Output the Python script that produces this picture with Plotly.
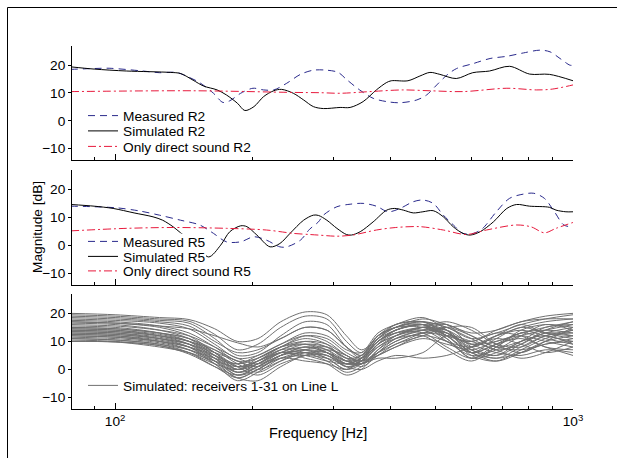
import math
import plotly.graph_objects as go

# ---------------- data ----------------
# Panel 1: receiver R2
freq_meas_r2 = [80, 90, 97, 115, 125, 136, 143, 153, 164, 172, 178, 188, 200, 211, 222, 237, 254, 271, 290, 307,
                320, 342, 366, 392, 419, 456, 479, 504, 530, 557, 606, 659, 717, 779, 847, 891, 937, 985, 1000]
meas_r2 = [18.5, 18.8, 18.9, 17.9, 17.3, 17.4, 16.1, 13.7, 9.9, 6.6, 7.2, 9.9, 11.7, 11.1, 11.1, 13.5, 16.7, 18.2, 18.2, 17.4,
           14.9, 11.1, 8.1, 6.9, 6.5, 7.5, 9.3, 12.9, 16.4, 18.8, 20.6, 22.4, 23.2, 24.4, 25.4, 24.8, 22.4, 20.0, 20.0]

freq_sim_r2 = [80, 90, 106, 132, 139, 148, 156, 167, 175, 185, 192, 201, 211, 222, 231, 245, 258, 271, 285, 310,
               326, 348, 372, 391, 401, 436, 463, 487, 512, 556, 604, 657, 727, 804, 888, 1000]
sim_r2 = [19.4, 18.6, 17.9, 17.4, 17.0, 14.6, 12.5, 11.1, 9.3, 6.3, 3.7, 5.1, 8.7, 10.8, 11.3, 9.9, 7.5, 5.1, 4.4, 4.8,
          4.8, 6.9, 11.1, 13.7, 14.4, 14.4, 16.1, 17.4, 16.7, 15.2, 17.3, 17.9, 19.6, 16.8, 16.7, 14.4]

freq_dir_r2 = [80, 148, 245, 281, 310, 360, 425, 487, 575, 717, 833, 901, 1000]
dir_r2 = [10.5, 10.8, 10.2, 10.1, 9.9, 10.5, 11.1, 10.8, 10.5, 11.7, 11.1, 11.4, 12.9]

# Panel 2: receiver R5
freq_meas_r5 = [80, 90, 101, 113, 125, 139, 153, 164, 175, 188, 201, 214, 229, 237, 254, 266, 278, 285, 305, 326,
                348, 372, 395, 419, 448, 470, 495, 521, 548, 575, 606, 635, 680, 727, 779, 821, 866, 911, 955, 1000]
meas_r5 = [14.0, 13.8, 13.4, 12.3, 10.8, 9.0, 7.3, 4.3, 1.3, 1.3, 3.1, 1.9, -0.5, -0.5, 1.9, 5.8, 8.4, 10.8, 13.8, 14.7,
           15.0, 14.0, 12.0, 13.2, 15.6, 16.2, 15.0, 10.8, 7.3, 4.3, 4.3, 6.1, 12.0, 16.8, 18.3, 18.6, 16.8, 12.0, 7.3, 6.6]

freq_sim_r5 = [80, 90, 99, 110, 121, 127, 134, 139, 150, 160, 170, 178, 188, 194, 204, 218, 229, 241, 258, 271,
               278, 290, 305, 320, 328, 343, 366, 392, 408, 426, 448, 470, 495, 521, 548, 575, 596, 627, 670, 717,
               753, 804, 888, 918, 965, 1000]
sim_r5 = [14.6, 14.0, 13.2, 11.6, 10.2, 9.0, 6.6, 4.5, 0.5, -4.1, 0.1, 4.9, 7.0, 6.7, 3.7, -0.5, 0.7, 4.3, 9.0, 10.8,
          10.7, 9.0, 6.1, 3.9, 3.7, 4.9, 8.4, 12.6, 13.2, 12.6, 11.6, 12.0, 12.4, 10.2, 6.6, 4.3, 3.7, 4.9, 8.4, 13.2,
          14.6, 14.0, 13.6, 12.6, 12.0, 12.0]

freq_dir_r5 = [80, 106, 134, 175, 214, 245, 266, 278, 305, 330, 372, 410, 463, 521, 585, 647, 753, 811, 866, 918, 1000]
dir_r5 = [5.2, 6.1, 6.4, 6.1, 5.5, 4.3, 3.9, 3.7, 3.3, 3.7, 5.5, 6.4, 6.7, 5.5, 3.9, 5.5, 7.3, 6.6, 4.5, 6.1, 8.2]

# Panel 3: simulated receivers 1-31 on line L
freq_line_l = [80, 100, 125, 145, 165, 185, 205, 230, 260, 290, 320, 345, 375, 410, 470, 530, 600, 680, 770, 870, 1000]
receivers_line_l = [
    [20, 19.5, 18.5, 17.8, 14.5, 10, 11, 17, 20.5, 19.5, 12, 7, 11, 14, 16, 12, 10, 14, 17, 19, 20],
    [19.5, 19, 18, 17.2, 12.5, 7, 9, 15, 19, 18, 10, 6, 12, 15, 17, 15, 11, 13, 16, 18, 19.5],
    [19, 18.5, 17.5, 16.5, 11, 5, 6, 12, 17, 16, 8, 4, 9, 13, 15, 14, 8, 12, 15, 17, 18],
    [18.5, 18, 17, 15.5, 10, 6, 7, 11, 15, 14, 8, 5, 12, 15, 17, 13, 9, 10, 13, 15, 17],
    [18, 17.5, 16.5, 14.5, 9, 4, 5, 9, 13, 12, 7, 6, 13, 16, 18.5, 14, 6, 9, 12, 14, 16],
    [17.5, 17, 15.5, 13, 8, 3, 4, 8, 12, 11, 6, 4, 10, 14, 16, 16, 12, 8, 10, 13, 15],
    [17, 16.5, 15, 12, 6, 1, 3, 7, 10, 9, 5, 3, 8, 12, 15, 17, 14, 9, 8, 12, 14],
    [16.5, 16, 14, 11, 5, 0, 2, 6, 9, 8, 4, 5, 12, 16, 17, 12, 6, 11, 15, 13, 12],
    [16, 15.5, 14, 12, 8, 4, 2, 5, 8, 7, 3, 2, 7, 11, 14, 16, 8, 5, 9, 14, 17],
    [15.5, 15, 13, 10, 4, -2, 1, 6, 8, 6, 2, 3, 11, 15, 16, 10, 5, 7, 12, 16, 14],
    [15, 14.5, 13, 11, 7, 2, -1, 3, 7, 8, 4, 1, 5, 9, 12, 15, 15, 9, 6, 10, 15],
    [15, 14.5, 13, 11, 6, 0, 3, 8, 11, 9, 3, 4, 10, 13, 13, 8, 4, 8, 13, 11, 9],
    [14.5, 14, 12.5, 10, 5, -1, 1, 5, 6, 5, 1, 3, 9, 12, 14, 13, 9, 12, 14, 12, 10],
    [14.5, 14, 12, 9, 3, -3, 0, 5, 7, 6, 3, 5, 12, 15, 15, 11, 4, 6, 10, 15, 16],
    [14, 13.5, 12, 10, 7, 3, 1, 4, 5, 4, 2, 4, 10, 14, 16, 14, 7, 4, 8, 12, 13],
    [14, 13.5, 12, 10, 6, 1, -2, 2, 5, 7, 5, 2, 6, 10, 13, 12, 10, 13, 12, 8, 7],
    [13.5, 13, 11.5, 9, 4, -1, 2, 7, 9, 7, 2, 3, 8, 11, 12, 7, 3, 8, 14, 16, 15],
    [13.5, 13, 11, 8, 2, -4, -1, 4, 6, 4, 0, 4, 11, 16, 17, 15, 11, 7, 9, 13, 12],
    [13, 12.5, 11, 9, 5, 1, 2, 6, 6, 3, -1, 1, 7, 12, 15, 12, 5, 3, 7, 11, 14],
    [13, 12.5, 11, 9, 6, 3, 0, 3, 6, 6, 3, 2, 5, 8, 11, 9, 7, 10, 12, 10, 8],
    [12.5, 12, 10.5, 8, 3, -2, 0, 5, 8, 6, 2, 4, 10, 13, 14, 10, 8, 12, 16, 13, 11],
    [12.5, 12, 10, 7, 2, -3, -4, 1, 5, 5, 1, 2, 6, 10, 13, 13, 6, 4, 6, 9, 10],
    [12, 11.5, 10, 8, 4, 0, 3, 7, 7, 4, 0, 2, 9, 14, 16, 11, 4, 9, 13, 14, 13],
    [12, 11.5, 10, 8, 5, 2, 4, 8, 10, 8, 4, 3, 6, 9, 13, 15, 12, 8, 7, 9, 11],
    [11.5, 11, 9.5, 7, 3, -1, 2, 6, 4, 2, -2, 0, 6, 11, 14, 14, 9, 6, 5, 7, 6],
    [11, 10.5, 9, 7, 4, 2, 5, 9, 12, 10, 5, 3, 5, 8, 12, 10, 6, 9, 11, 8, 5],
    [11, 10.5, 9, 6, 1, -3, 0, 4, 3, 2, 0, 3, 9, 12, 15, 13, 7, 5, 10, 12, 9],
    [10.5, 10, 8.5, 6, 2, 0, 4, 8, 9, 6, 1, 0, 3, 5, 4, 5, 8, 11, 9, 6, 8],
    [10, 9.8, 8, 6, 3, 1, 3, 6, 5, 3, 2, 4, 10, 14, 16, 12, 6, 3, 6, 10, 12],
    [10, 9.8, 8.5, 5.5, 1, -2, 1, 5, 7, 5, 2, 2, 4, 4, 6, 12, 10, 7, 4, 6, 10],
    [17, 16.5, 15.5, 14.5, 12, 9.5, 8, 11, 15, 14, 8, 5, 11, 15, 18, 16, 13, 14, 17, 18, 18],
]

x_major = [100, 1000]
x_major_text = ["10<sup>2</sup>", "10<sup>3</sup>"]
x_minor = [90, 200, 300, 400, 500, 600, 700, 800, 900]
y_ticks = [-10, 0, 10, 20]

# ---------------- style ----------------
FONT = "Liberation Sans, Arial, Helvetica, sans-serif"
FS = 13.7
BLUE = "#2a2a8c"
RED = "#e8193c"
GRAY = "#707070"
DASH = "7px,5px"
DASHDOT = "8px,3px,2px,3px"

fig = go.Figure()


def add(x, y, ax, name, color, dash, legend, showlegend=True, group=None):
    fig.add_trace(go.Scatter(
        x=x, y=y, mode="lines", name=name,
        line=dict(color=color, width=1, dash=dash, shape="spline", smoothing=0.9),
        xaxis="x" + ax, yaxis="y" + ax, legend=legend,
        showlegend=showlegend, legendgroup=group,
    ))


add(freq_meas_r2, meas_r2, "", "Measured R2", BLUE, DASH, "legend")
add(freq_sim_r2, sim_r2, "", "Simulated R2", "black", "solid", "legend2")
add(freq_dir_r2, dir_r2, "", "Only direct sound R2", RED, DASHDOT, "legend3")

add(freq_meas_r5, meas_r5, "2", "Measured R5", BLUE, DASH, "legend4")
add(freq_sim_r5, sim_r5, "2", "Simulated R5", "black", "solid", "legend5")
add(freq_dir_r5, dir_r5, "2", "Only direct sound R5", RED, DASHDOT, "legend6")

for i, rec in enumerate(receivers_line_l):
    add(freq_line_l, rec, "3", "Simulated: receivers 1-31 on Line L", GRAY, "solid", "legend7",
        showlegend=(i == 0), group="lineL")

# ---------------- layout ----------------
W, H = 617, 458
L, R, T, B = 72, 573, 46, 409
pw, ph = R - L, B - T


def px_x(x):
    return (x - L) / pw


def px_y(y):
    return (B - y) / ph


xr = [math.log10(80.5), 3]
yr = [-14.1, 26.9]

common_x = dict(type="log", range=xr, showline=True, linecolor="black", linewidth=1,
                showgrid=False, zeroline=False, ticks="inside", ticklen=6, tickcolor="black",
                tickvals=x_major, ticktext=x_major_text,
                minor=dict(tickvals=x_minor, ticks="inside", ticklen=3, tickcolor="black", showgrid=False),
                tickfont=dict(family=FONT, size=FS, color="black"))
common_y = dict(range=yr, showline=True, linecolor="black", linewidth=1, showgrid=False,
                zeroline=False, ticks="outside", ticklen=3, tickcolor="black",
                tickvals=y_ticks, tickfont=dict(family=FONT, size=FS, color="black"))

dom1 = [px_y(160), 1.0]
dom2 = [px_y(285), px_y(170)]
dom3 = [0.0, px_y(294)]


def legend_at(yc, xleft=83):
    return dict(x=px_x(xleft), y=px_y(yc), xanchor="left", yanchor="middle",
                bgcolor="rgba(0,0,0,0)", borderwidth=0, itemwidth=30, tracegroupgap=0,
                font=dict(family=FONT, size=FS, color="black"))


fig.update_layout(
    width=W, height=H, autosize=False,
    margin=dict(l=L, r=W - R, t=T, b=H - B, pad=0),
    paper_bgcolor="white", plot_bgcolor="white",
    font=dict(family=FONT, size=FS, color="black"),
    xaxis=dict(common_x, domain=[0, 1], anchor="y", showticklabels=False),
    xaxis2=dict(common_x, domain=[0, 1], anchor="y2", showticklabels=False),
    xaxis3=dict(common_x, domain=[0, 1], anchor="y3", showticklabels=True),
    yaxis=dict(common_y, domain=dom1, anchor="x"),
    yaxis2=dict(common_y, domain=dom2, anchor="x2"),
    yaxis3=dict(common_y, domain=dom3, anchor="x3"),
    legend=legend_at(115.7),
    legend2=legend_at(131),
    legend3=legend_at(146.5),
    legend4=legend_at(241.5),
    legend5=legend_at(256.5),
    legend6=legend_at(271),
    legend7=legend_at(385.5),
    annotations=[
        dict(text="Magnitude [dB]", textangle=-90, x=px_x(37), y=px_y(227), xref="paper", yref="paper",
             xanchor="center", yanchor="middle", showarrow=False, font=dict(family=FONT, size=FS)),
        dict(text="Frequency [Hz]", x=px_x(318), y=px_y(433), xref="paper", yref="paper",
             xanchor="center", yanchor="middle", showarrow=False, font=dict(family=FONT, size=14.5)),
    ],
    shapes=[
        # outer figure frame (top and left edges visible)
        dict(type="line", xref="paper", yref="paper", x0=px_x(7.5), y0=px_y(7.5), x1=px_x(617), y1=px_y(7.5),
             line=dict(color="black", width=1)),
        dict(type="line", xref="paper", yref="paper", x0=px_x(7.5), y0=px_y(7.5), x1=px_x(7.5), y1=px_y(458),
             line=dict(color="black", width=1)),
        # opaque white background behind the R5 legend texts (hides the curve under them)
        dict(type="rect", xref="paper", yref="paper", x0=px_x(121), y0=px_y(263), x1=px_x(206), y1=px_y(233.5),
             line=dict(width=0), fillcolor="white", layer="above"),
    ],
)

fig.write_html("out.html")
